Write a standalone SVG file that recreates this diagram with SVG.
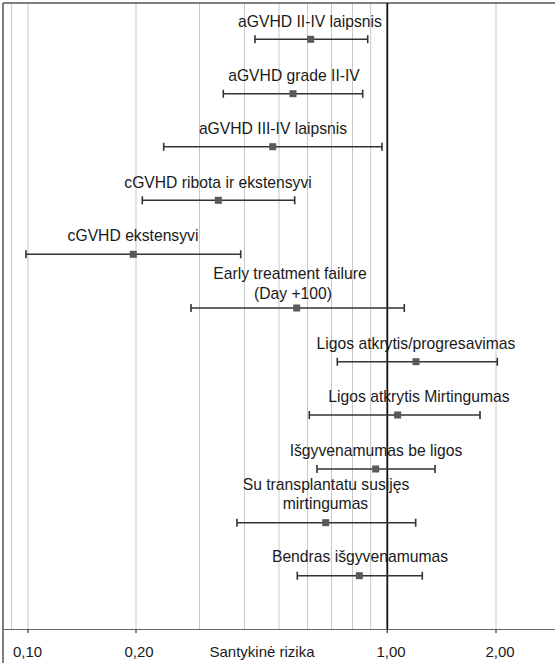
<svg xmlns="http://www.w3.org/2000/svg" width="555" height="663" viewBox="0 0 555 663">
<style>
.grid{stroke:#c8c8c8;stroke-width:1}
.bar{stroke:#333;stroke-width:1.6;fill:none}
.mk{fill:#595959}
.lbl{font-family:"Liberation Sans",Arial,sans-serif;font-size:15.7px;fill:#1a1a1a;text-anchor:middle}
.ax{font-family:"Liberation Sans",Arial,sans-serif;font-size:15px;fill:#1a1a1a;text-anchor:middle}
</style>
<defs>
<g id="m"><rect x="-3.5" y="-3.5" width="7" height="7" class="mk"/></g>
</defs>
<rect x="0" y="0" width="555" height="663" fill="#fff"/>
<g id="gridlines">
<line class="grid" x1="11.6" y1="3" x2="11.6" y2="629"/>
<line class="grid" x1="28" y1="3" x2="28" y2="629"/>
<line class="grid" x1="136" y1="3" x2="136" y2="629"/>
<line class="grid" x1="199.5" y1="3" x2="199.5" y2="629"/>
<line class="grid" x1="244.5" y1="3" x2="244.5" y2="629"/>
<line class="grid" x1="279" y1="3" x2="279" y2="629"/>
<line class="grid" x1="307.5" y1="3" x2="307.5" y2="629"/>
<line class="grid" x1="331.5" y1="3" x2="331.5" y2="629"/>
<line class="grid" x1="352.5" y1="3" x2="352.5" y2="629"/>
<line class="grid" x1="370.7" y1="3" x2="370.7" y2="629"/>
<line class="grid" x1="496" y1="3" x2="496" y2="629"/>
</g>
<g id="frame">
<line x1="3" y1="3" x2="555" y2="3" stroke="#555" stroke-width="1.5"/>
<line x1="3" y1="3" x2="3" y2="663" stroke="#555" stroke-width="1.5"/>
<line x1="3" y1="629.5" x2="555" y2="629.5" stroke="#666" stroke-width="1.2"/>
<line x1="387.3" y1="3" x2="387.3" y2="629" stroke="#111" stroke-width="1.8"/>
<g stroke="#444" stroke-width="1.3">
<line x1="28" y1="629" x2="28" y2="633"/>
<line x1="136" y1="629" x2="136" y2="633"/>
<line x1="387.3" y1="629" x2="387.3" y2="633"/>
<line x1="496" y1="629" x2="496" y2="633"/>
</g>
</g>
<g id="axis-labels">
<text class="ax" x="27.5" y="657">0,10</text>
<text class="ax" x="139" y="657">0,20</text>
<text class="ax" x="262" y="657">Santykinė rizika</text>
<text class="ax" x="391" y="657">1,00</text>
<text class="ax" x="500" y="657">2,00</text>
</g>
<g id="connectors">
<path class="bar" d="M255 39.3H367.7M255 35.3V43.3M367.7 35.3V43.3"/>
<path class="bar" d="M223.3 93.7H362.7M223.3 89.7V97.7M362.7 89.7V97.7"/>
<path class="bar" d="M163.7 146.7H382M163.7 142.7V150.7M382 142.7V150.7"/>
<path class="bar" d="M142.3 200.3H294.7M142.3 196.3V204.3M294.7 196.3V204.3"/>
<path class="bar" d="M26 254.3H240.7M26 250.3V258.3M240.7 250.3V258.3"/>
<path class="bar" d="M191 308H404.3M191 304V312M404.3 304V312"/>
<path class="bar" d="M337.3 361.7H497.3M337.3 357.7V365.7M497.3 357.7V365.7"/>
<path class="bar" d="M309.3 415H480M309.3 411V419M480 411V419"/>
<path class="bar" d="M317 469H435M317 465V473M435 465V473"/>
<path class="bar" d="M237 522.7H415.7M237 518.7V526.7M415.7 518.7V526.7"/>
<path class="bar" d="M297.3 575.7H422.3M297.3 571.7V579.7M422.3 571.7V579.7"/>
</g>
<g id="n1"><use href="#m" x="310.7" y="39.3"/><text class="lbl" x="310" y="27">aGVHD II-IV laipsnis</text></g>
<g id="n2"><use href="#m" x="293" y="93.7"/><text class="lbl" x="294" y="81">aGVHD grade II-IV</text></g>
<g id="n3"><use href="#m" x="272.7" y="146.7"/><text class="lbl" x="273" y="134">aGVHD III-IV laipsnis</text></g>
<g id="n4"><use href="#m" x="218.3" y="200.3"/><text class="lbl" x="218" y="188">cGVHD ribota ir ekstensyvi</text></g>
<g id="n5"><use href="#m" x="133.3" y="254.3"/><text class="lbl" x="133" y="241">cGVHD ekstensyvi</text></g>
<g id="n6"><use href="#m" x="296.7" y="308"/><text class="lbl" x="290" y="279">Early treatment failure</text><text class="lbl" x="293" y="299">(Day +100)</text></g>
<g id="n7"><use href="#m" x="416" y="361.7"/><text class="lbl" x="416" y="349">Ligos atkrytis/progresavimas</text></g>
<g id="n8"><use href="#m" x="397.7" y="415"/><text class="lbl" x="419" y="402">Ligos atkrytis Mirtingumas</text></g>
<g id="n9"><use href="#m" x="375.7" y="469"/><text class="lbl" x="376" y="456">Išgyvenamumas be ligos</text></g>
<g id="n10"><use href="#m" x="325.7" y="522.7"/><text class="lbl" x="326" y="490">Su transplantatu susijęs</text><text class="lbl" x="325.5" y="509">mirtingumas</text></g>
<g id="n11"><use href="#m" x="359.3" y="575.7"/><text class="lbl" x="360" y="562">Bendras išgyvenamumas</text></g>
</svg>
